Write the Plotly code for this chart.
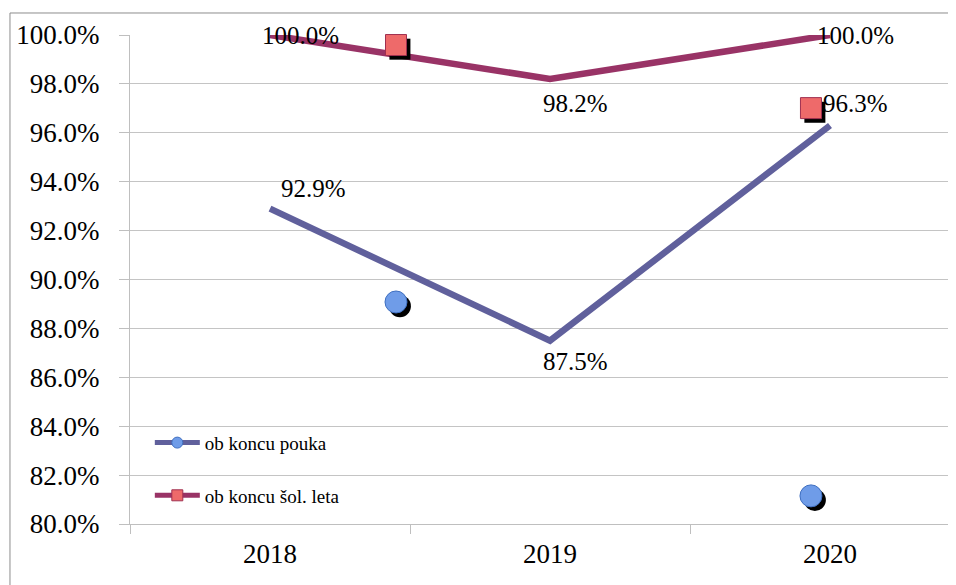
import plotly.graph_objects as go

years = ["2018", "2019", "2020"]
pouka = [92.9, 87.5, 96.3]
leta = [100.0, 98.2, 100.0]
labels_pouka = ["92.9%", "87.5%", "96.3%"]
labels_leta = ["100.0%", "98.2%", "100.0%"]

# stray marker artefacts visible in the picture (x on linear overlay axis, 0=2018)
circ_x = [0.45, 1.932]
circ_y = [89.08, 81.15]
sq_x = [0.45, 1.932]
sq_y = [99.59, 97.01]

c_blue = "#60609C"
c_maroon = "#993366"
FONT = "Liberation Serif"

fig = go.Figure()

fig.add_trace(go.Scatter(x=years, y=pouka, mode="lines", line=dict(color=c_blue, width=6.5),
                         showlegend=False, cliponaxis=False))
fig.add_trace(go.Scatter(x=years, y=leta, mode="lines", line=dict(color=c_maroon, width=6.5),
                         showlegend=False, cliponaxis=False))

# shadows then markers
sdx, sdy = 0.014, -0.17
fig.add_trace(go.Scatter(x=[v + sdx for v in circ_x], y=[v + sdy for v in circ_y], xaxis="x2",
                         mode="markers", marker=dict(symbol="circle", size=22, color="black"),
                         showlegend=False, cliponaxis=False))
fig.add_trace(go.Scatter(x=circ_x, y=circ_y, xaxis="x2", mode="markers",
                         marker=dict(symbol="circle", size=22, color="#6F9CE8",
                                     line=dict(color="#3F6FC0", width=1)),
                         showlegend=False, cliponaxis=False))
fig.add_trace(go.Scatter(x=[v + sdx for v in sq_x], y=[v + sdy for v in sq_y], xaxis="x2",
                         mode="markers", marker=dict(symbol="square", size=21, color="black"),
                         showlegend=False, cliponaxis=False))
fig.add_trace(go.Scatter(x=sq_x, y=sq_y, xaxis="x2", mode="markers",
                         marker=dict(symbol="square", size=21, color="#EE6A6A",
                                     line=dict(color="#A03050", width=1)),
                         showlegend=False, cliponaxis=False))

# legend entries
fig.add_trace(go.Scatter(x=[None], y=[None], mode="lines+markers", name="ob koncu pouka",
                         legendgroup="a",
                         line=dict(color=c_blue, width=5),
                         marker=dict(symbol="circle", size=11, color="#6F9CE8",
                                     line=dict(color="#3F6FC0", width=1))))
fig.add_trace(go.Scatter(x=[None], y=[None], mode="lines+markers", name="ob koncu šol. leta",
                         legendgroup="b",
                         line=dict(color=c_maroon, width=5),
                         marker=dict(symbol="square", size=11, color="#EE6A6A",
                                     line=dict(color="#A03050", width=1))))

shifts_pouka = [(43, 20), (25, -21), (25, 22)]
shifts_leta = [(30, 0), (25, -24), (25, 0)]
for i, (v, t, (dx, dy)) in enumerate(zip(pouka, labels_pouka, shifts_pouka)):
    fig.add_annotation(x=i, y=v, xref="x2", text=t, showarrow=False, xshift=dx, yshift=dy,
                       font=dict(family=FONT, size=25, color="black"))
for i, (v, t, (dx, dy)) in enumerate(zip(leta, labels_leta, shifts_leta)):
    fig.add_annotation(x=i, y=v, xref="x2", text=t, showarrow=False, xshift=dx, yshift=dy,
                       font=dict(family=FONT, size=25, color="black"))

# outer chart border (left and top edges visible)
fig.add_shape(type="rect", xref="paper", yref="paper", x0=-0.1453, x1=1.3, y0=-0.3, y1=1.045,
              line=dict(color="#8C8C8C", width=1), fillcolor="rgba(0,0,0,0)", layer="below")

# the page body adds an 8px offset, so the figure is sized 8px smaller
fig.update_layout(
    width=948, height=577,
    margin=dict(l=122, r=0, t=27, b=61, autoexpand=False),
    paper_bgcolor="white", plot_bgcolor="white",
    font=dict(family=FONT, color="black"),
    xaxis=dict(type="category", categoryorder="array", categoryarray=years,
               range=[-0.5, 2.45], showgrid=False, showline=True, linecolor="#BFBFBF",
               ticks="outside", tickson="boundaries", ticklen=9, tickcolor="#BFBFBF",
               tickfont=dict(family=FONT, size=27), ticklabelstandoff=6, automargin=False),
    xaxis2=dict(overlaying="x", range=[-0.5, 2.45], visible=False, anchor="y"),
    yaxis=dict(range=[80, 100], dtick=2, ticksuffix="%", tickformat=".1f",
               showgrid=True, gridcolor="#C4C4C4", gridwidth=1,
               showline=True, linecolor="#BFBFBF", ticks="outside", ticklen=10,
               tickcolor="#BFBFBF", zeroline=False, automargin=False,
               tickfont=dict(family=FONT, size=27), ticklabelstandoff=14),
    legend=dict(x=0.024, y=0.205, xanchor="left", yanchor="top", traceorder="grouped",
                tracegroupgap=25, bgcolor="rgba(0,0,0,0)", itemwidth=45,
                font=dict(family=FONT, size=19, color="black")),
)

fig.write_html("out.html")
